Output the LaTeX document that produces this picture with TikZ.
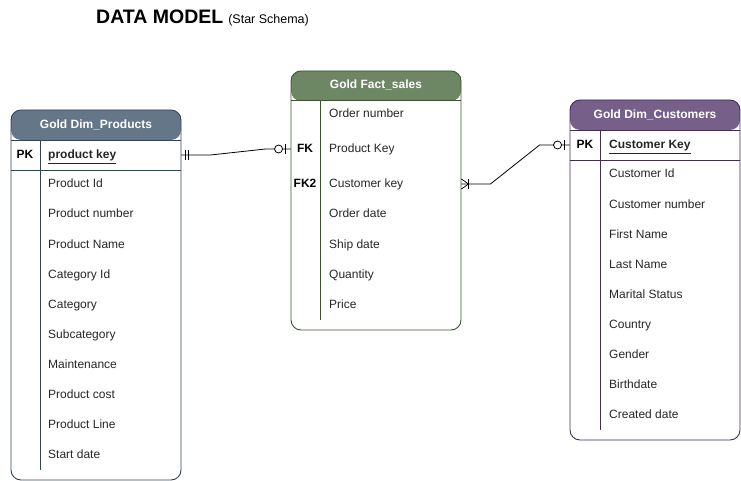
\documentclass[tikz,border=0pt]{standalone}
\usepackage{fontspec}
\setmainfont{Liberation Sans}
\usetikzlibrary{positioning}
\usetikzlibrary{calc}
\definecolor{slatehead}{HTML}{647687}
\definecolor{slateline}{HTML}{314354}
\definecolor{olivehead}{HTML}{6D8764}
\definecolor{oliveline}{HTML}{3A5431}
\definecolor{plumhead}{HTML}{76608A}
\definecolor{plumline}{HTML}{432D57}
\tikzset{erbox/.style = {draw=#1line, line width=0.9pt, rounded corners=10pt,
                         minimum width=170pt, inner sep=0pt,
                         path picture={\fill[#1head] (path picture bounding box.north west)
                           rectangle ([yshift=-30pt]path picture bounding box.north east);}},
         erhead/.style = {text=white, font=\bfseries\fontsize{12}{14}\selectfont},
         erkey/.style = {font=\bfseries\fontsize{12}{14}\selectfont, text height=10pt,
                         text depth=2pt, inner sep=0pt},
         erfield/.style = {anchor=west, font=\fontsize{12}{14}\selectfont, text height=10pt,
                           text depth=2pt, inner sep=0pt, text=black!85},
         erline/.style = {line width=0.8pt}}

\begin{document}
\begin{tikzpicture}[x=1pt, y=-1pt]
     \useasboundingbox (0, 0) rectangle (741, 481);
     \node [anchor = base west, inner sep=0pt] (title) at (96, 24)
          {\bfseries\fontsize{19.5}{22}\selectfont DATA MODEL\hspace{5pt}\mdseries\fontsize{12.5}{14}\selectfont(Star Schema)};
     % dimension: products
     \node [erbox=slate, minimum height=370pt] (products) at (96, 295) {};
     \node [erhead] (prodhead) at (96, 125) {Gold Dim\_Products};
     \draw [slateline, erline] (11, 140) -- (181, 140);
     \draw [slateline, erline] (11, 170) -- (181, 170);
     \draw [slateline, erline] (40, 140) -- (40, 470);
     \node [erkey] (prodpklabel) at (25, 155) {PK};
     \node [erfield, font=\bfseries\fontsize{12}{14}\selectfont] (prodpk) at (48, 155) {\underline{product key}};
     \node [erfield] (prodid) at (48, 184) {Product Id};
     \node [erfield] (prodnumber) at (48, 214) {Product number};
     \node [erfield] (prodname) at (48, 244) {Product Name};
     \node [erfield] (prodcatid) at (48, 274) {Category Id};
     \node [erfield] (prodcat) at (48, 304) {Category};
     \node [erfield] (prodsubcat) at (48, 334) {Subcategory};
     \node [erfield] (prodmaint) at (48, 364) {Maintenance};
     \node [erfield] (prodcost) at (48, 394) {Product cost};
     \node [erfield] (prodline) at (48, 424) {Product Line};
     \node [erfield] (prodstart) at (48, 454) {Start date};
     % fact: sales
     \node [erbox=olive, minimum height=259pt] (fact) at (376, 200.5) {};
     \node [erhead] (facthead) at (376, 85) {Gold Fact\_sales};
     \draw [oliveline, erline] (291, 100) -- (461, 100);
     \draw [oliveline, erline] (320, 100) -- (320, 320);
     \node [erfield] (factorder) at (329, 114) {Order number};
     \node [erkey] (factfklabel) at (305, 149) {FK};
     \node [erfield] (factfk) at (329, 149) {Product Key};
     \node [erkey] (factfktwolabel) at (305, 184) {FK2};
     \node [erfield] (factfktwo) at (329, 184) {Customer key};
     \node [erfield] (factorderdate) at (329, 214) {Order date};
     \node [erfield] (factship) at (329, 244) {Ship date};
     \node [erfield] (factqty) at (329, 274) {Quantity};
     \node [erfield] (factprice) at (329, 304) {Price};
     % dimension: customers
     \node [erbox=plum, minimum height=340pt] (customers) at (655, 270) {};
     \node [erhead] (custhead) at (655, 115) {Gold Dim\_Customers};
     \draw [plumline, erline] (570, 130) -- (740, 130);
     \draw [plumline, erline] (570, 160) -- (740, 160);
     \draw [plumline, erline] (600, 130) -- (600, 430);
     \node [erkey] (custpklabel) at (585, 145) {PK};
     \node [erfield, font=\bfseries\fontsize{12}{14}\selectfont] (custpk) at (609, 145) {\underline{Customer Key}};
     \node [erfield] (custid) at (609, 174) {Customer Id};
     \node [erfield] (custnumber) at (609, 204) {Customer number};
     \node [erfield] (custfirst) at (609, 234) {First Name};
     \node [erfield] (custlast) at (609, 264) {Last Name};
     \node [erfield] (custmarital) at (609, 294) {Marital Status};
     \node [erfield] (custcountry) at (609, 324) {Country};
     \node [erfield] (custgender) at (609, 354) {Gender};
     \node [erfield] (custbirth) at (609, 384) {Birthdate};
     \node [erfield] (custcreated) at (609, 414) {Created date};
     % relations
     \coordinate (prodend) at (products.east |- prodpk);
     \coordinate (factprodend) at (fact.west |- factfk);
     \coordinate (factcustend) at (fact.east |- factfktwo);
     \coordinate (custend) at (customers.west |- custpk);
     \draw [erline] (prodend) -- ++(29, 0) -- ($(factprodend) + (-25, 0)$) -- (factprodend);
     \draw [erline] ($(prodend) + (4, -5)$) -- ++(0, 10);
     \draw [erline] ($(prodend) + (7, -5)$) -- ++(0, 10);
     \draw [erline, fill=white] ($(factprodend) + (-12, 0)$) circle (4);
     \draw [erline] ($(factprodend) + (-5, -5)$) -- ++(0, 10);
     \draw [erline] (factcustend) -- ++(29, 0) -- ($(custend) + (-30, 0)$) -- (custend);
     \draw [erline] ($(factcustend) + (0, -5)$) -- ++(7, 5) -- ++(-7, 5);
     \draw [erline] ($(factcustend) + (7, -5)$) -- ++(0, 10);
     \draw [erline, fill=white] ($(custend) + (-12, 0)$) circle (4);
     \draw [erline] ($(custend) + (-5, -5)$) -- ++(0, 10);
\end{tikzpicture}
\end{document}
